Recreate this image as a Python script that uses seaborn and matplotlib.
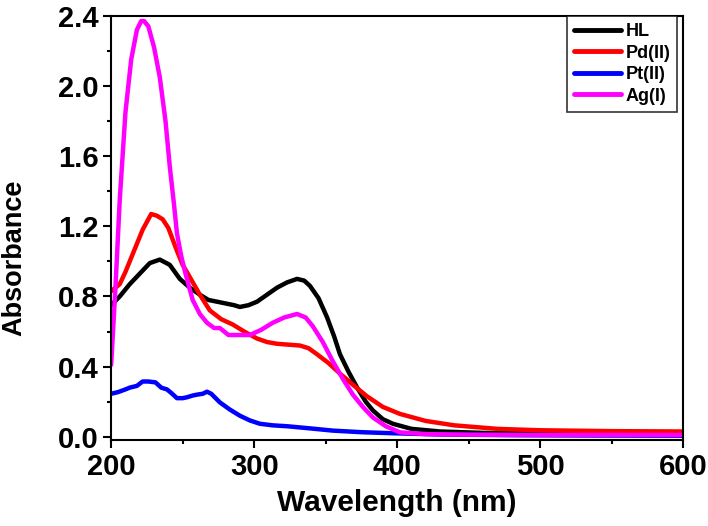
import numpy as np
import pandas as pd
import matplotlib
matplotlib.use("Agg")
import matplotlib.pyplot as plt
import seaborn as sns
from matplotlib.ticker import MultipleLocator, FormatStrFormatter

# UV-Vis spectra, values
wl_hl = [200, 206, 213, 220, 227, 234, 241, 248, 255, 262, 268, 274, 280, 286, 290,
         296, 302, 309, 316, 323, 330, 335, 339, 345, 351, 356, 360, 366, 372, 378,
         383, 390, 397, 410, 430, 460, 500, 550, 600]
abs_hl = [0.75, 0.80, 0.87, 0.93, 0.99, 1.01, 0.98, 0.90, 0.85, 0.81, 0.78, 0.77, 0.76,
          0.75, 0.74, 0.75, 0.77, 0.81, 0.85, 0.88, 0.90, 0.89, 0.86, 0.79, 0.68, 0.57,
          0.47, 0.37, 0.28, 0.20, 0.15, 0.10, 0.074, 0.045, 0.03, 0.022, 0.018, 0.016, 0.015]

wl_pd = [200, 203, 206, 210, 215, 219, 222, 226, 228, 232, 236, 240, 246, 250, 255,
         262, 269, 277, 285, 293, 302, 309, 316, 324, 332, 338, 344, 352, 360, 370,
         379, 390, 402, 420, 440, 470, 500, 550, 600]
abs_pd = [0.83, 0.85, 0.87, 0.94, 1.04, 1.12, 1.18, 1.24, 1.27, 1.26, 1.24, 1.19, 1.06,
          0.98, 0.91, 0.81, 0.72, 0.67, 0.64, 0.60, 0.56, 0.54, 0.53, 0.525, 0.52, 0.505,
          0.47, 0.42, 0.36, 0.29, 0.23, 0.17, 0.13, 0.09, 0.065, 0.045, 0.037, 0.032, 0.03]

wl_pt = [200, 205, 210, 213, 218, 222, 226, 231, 235, 239, 242, 246, 250, 253, 257,
         260, 264, 267, 270, 276, 283, 290, 297, 304, 313, 323, 340, 355, 375, 397,
         430, 480, 540, 600]
abs_pt = [0.245, 0.255, 0.27, 0.28, 0.29, 0.315, 0.315, 0.31, 0.28, 0.27, 0.25, 0.22,
          0.22, 0.225, 0.235, 0.24, 0.245, 0.257, 0.245, 0.196, 0.155, 0.12, 0.093, 0.074,
          0.065, 0.06, 0.047, 0.035, 0.026, 0.02, 0.013, 0.009, 0.007, 0.006]

wl_ag = [200, 203, 206, 210, 214, 218, 221, 223, 226, 230, 234, 238, 241, 244, 246,
         249, 252, 257, 262, 267, 272, 276, 282, 290, 297, 305, 313, 321, 330, 336,
         341, 348, 355, 362, 369, 376, 383, 392, 402, 420, 450, 500, 600]
abs_ag = [0.41, 0.85, 1.35, 1.85, 2.15, 2.32, 2.37, 2.37, 2.34, 2.22, 2.05, 1.80, 1.54,
          1.32, 1.16, 1.03, 0.93, 0.78, 0.70, 0.65, 0.62, 0.62, 0.58, 0.58, 0.58, 0.61,
          0.65, 0.68, 0.70, 0.68, 0.63, 0.54, 0.43, 0.33, 0.24, 0.17, 0.11, 0.06, 0.025,
          0.015, 0.012, 0.01, 0.01]

labels = ["HL", "Pd(II)", "Pt(II)", "Ag(I)"]
colors = ["#000000", "#ff0000", "#0000ff", "#ff00ff"]

frames = []
for name, x, y in zip(labels, [wl_hl, wl_pd, wl_pt, wl_ag], [abs_hl, abs_pd, abs_pt, abs_ag]):
    frames.append(pd.DataFrame({"wavelength": x, "absorbance": y, "sample": name}))
df = pd.concat(frames, ignore_index=True)

sns.set_style("ticks")
plt.rcParams['font.family'] = ['Liberation Sans', 'DejaVu Sans']
plt.rcParams.update({
    'font.weight': 'bold',
    'text.color': 'black',
    'axes.labelcolor': 'black',
    'axes.edgecolor': 'black',
    'xtick.color': 'black',
    'ytick.color': 'black',
})

fig = plt.figure(figsize=(7.08, 5.26), dpi=100)
ax = fig.add_axes([0.157, 0.163, 0.808, 0.807])

sns.lineplot(data=df, x="wavelength", y="absorbance", hue="sample", hue_order=labels,
             palette=colors, linewidth=3.2, sort=False, estimator=None, ax=ax)

ax.set_xlim(200, 600)
ax.set_ylim(-0.02, 2.4)
ax.xaxis.set_major_locator(MultipleLocator(100))
ax.xaxis.set_minor_locator(MultipleLocator(50))
ax.yaxis.set_major_locator(MultipleLocator(0.4))
ax.yaxis.set_minor_locator(MultipleLocator(0.2))
ax.yaxis.set_major_formatter(FormatStrFormatter('%.1f'))
ax.tick_params(which='both', direction='out', width=1.5, top=False, right=False)
ax.tick_params(which='major', length=6, labelsize=21, pad=3)
ax.tick_params(which='minor', length=3)
for lbl in ax.get_xticklabels() + ax.get_yticklabels():
    lbl.set_fontweight('bold')
for sp in ax.spines.values():
    sp.set_linewidth(1.5)
    sp.set_visible(True)

ax.set_xlabel("Wavelength (nm)", fontsize=21.5, fontweight='bold', labelpad=6)
ax.set_ylabel("Absorbance", fontsize=19.5, fontweight='bold')
ax.yaxis.set_label_coords(-0.147, 0.43)

leg = ax.legend(loc="upper right", bbox_to_anchor=(0.99, 1.0), fontsize=13,
                frameon=True, fancybox=False, edgecolor='black', handlelength=2.6,
                handletextpad=0.25, borderpad=0.4, labelspacing=0.25, borderaxespad=0)
leg.get_frame().set_linewidth(1.2)
for t in leg.get_texts():
    t.set_fontweight('bold')
for h in leg.get_lines():
    h.set_linewidth(3.5)

fig.savefig("out.png", dpi=100)
